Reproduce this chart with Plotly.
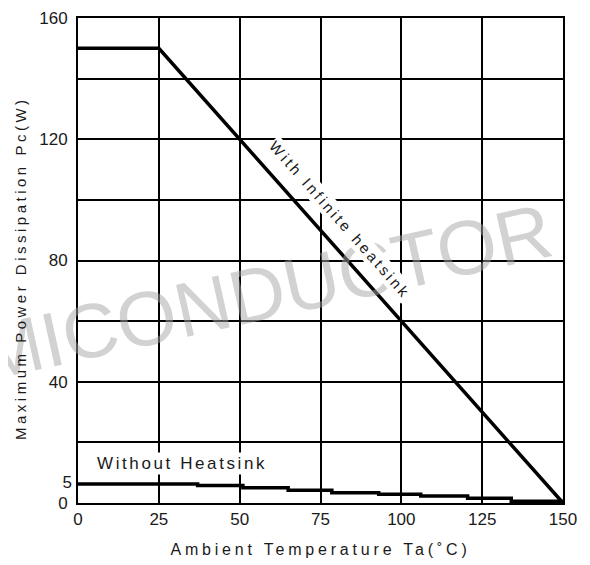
import plotly.graph_objects as go

# Data
temp_inf = [0, 25, 150]
power_inf = [150, 150, 0]

temp_noheat = [0, 37, 51, 65, 78.5, 93, 106, 120.5, 134, 150]
power_noheat = [6.3, 5.8, 5.0, 4.2, 3.4, 2.9, 2.3, 1.6, 0.6, 0.6]

x_ticks = [0, 25, 50, 75, 100, 125, 150]
y_grid = [0, 20, 40, 60, 80, 100, 120, 140, 160]
y_labels = ["0", "", "40", "", "80", "", "120", "", "160"]
y_extra_tick = [5]
y_extra_label = ["5"]

FONT = "Liberation Sans, Arial, sans-serif"
INK = "#1a1a1a"

def spaced(s, px):
    return f'<span style="letter-spacing:{px}px">{s}</span>'

fig = go.Figure()
fig.add_trace(go.Scatter(x=temp_inf, y=power_inf, mode="lines",
                         line=dict(color="black", width=3.5), showlegend=False))
fig.add_trace(go.Scatter(x=temp_noheat, y=power_noheat, mode="lines", line_shape="hv",
                         line=dict(color="black", width=3.5), showlegend=False, yaxis="y2"))

# watermark
fig.add_annotation(text="SEMICONDUCTOR", xref="paper", yref="paper",
                   x=0.282, y=0.412, xanchor="center", yanchor="middle",
                   showarrow=False, textangle=-12.5,
                   font=dict(family=FONT, size=77, color="rgba(165,165,165,0.5)"))

fig.add_annotation(text=spaced("With Infinite heatsink", 3.0), x=81, y=93.5,
                   xanchor="center", yanchor="middle",
                   showarrow=False, textangle=48.5, bgcolor="white",
                   font=dict(family=FONT, size=15, color=INK))
fig.add_annotation(text=spaced("Without Heatsink", 2.6), x=5.3, y=13,
                   showarrow=False, xanchor="left", yanchor="middle", bgcolor="white",
                   font=dict(family=FONT, size=17, color=INK))

# y-axis title
fig.add_annotation(text=spaced("Maximum Power Dissipation Pc(W)", 3.5), xref="paper", yref="paper",
                   x=-0.1196, y=0.4845, xanchor="center", yanchor="middle",
                   showarrow=False, textangle=-90,
                   font=dict(family=FONT, size=15, color=INK))

axis_common = dict(showline=True, linecolor="black", linewidth=2, mirror=True,
                   ticks="", zeroline=False,
                   tickfont=dict(family=FONT, size=17, color=INK))

fig.update_layout(
    width=582, height=557,
    margin=dict(l=70, r=27, t=10, b=62, autoexpand=False),
    paper_bgcolor="white", plot_bgcolor="white",
    xaxis=dict(range=[0, 150], tickmode="array", tickvals=x_ticks,
               showgrid=True, gridcolor="black", gridwidth=1.5,
               ticklabelstandoff=0,
               title=dict(text=spaced("Ambient Temperature Ta(˚C)", 3.8), standoff=15,
                          font=dict(family=FONT, size=16, color=INK)),
               **axis_common),
    yaxis=dict(range=[0, 160], tickmode="array", tickvals=y_grid, ticktext=y_labels,
               showgrid=True, gridcolor="black", gridwidth=1.5,
               ticklabelstandoff=5,
               **axis_common),
    yaxis2=dict(range=[0, 160], overlaying="y", side="left", tickmode="array",
                tickvals=y_extra_tick, ticktext=y_extra_label, showgrid=False,
                showline=False, ticks="", zeroline=False, ticklabelstandoff=5,
                ticklabelshift=-6,
                tickfont=dict(family=FONT, size=17, color=INK)),
)

fig.write_html("out.html")
